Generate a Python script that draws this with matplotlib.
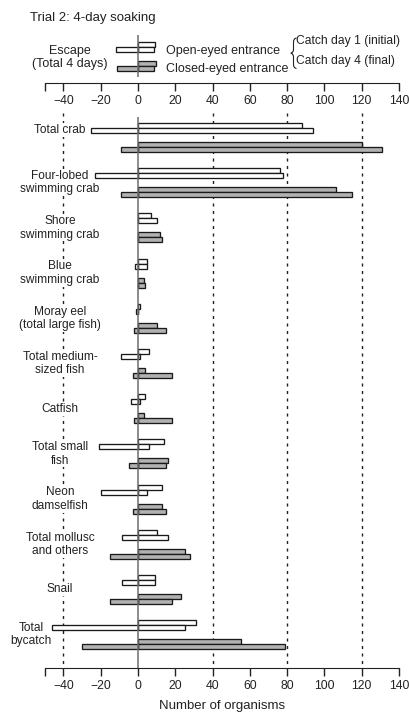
import matplotlib
matplotlib.use("Agg")
import matplotlib.pyplot as plt
import numpy as np
from matplotlib.path import Path
from matplotlib.patches import PathPatch
import matplotlib.transforms as mtransforms

plt.rcParams['font.family'] = ['Liberation Sans', 'DejaVu Sans']

# ---------------- data ----------------
categories = ["Total crab", "Four-lobed\nswimming crab", "Shore\nswimming crab",
              "Blue\nswimming crab", "Moray eel\n(total large fish)",
              "Total medium-\nsized fish", "Catfish", "Total small\nfish",
              "Neon\ndamselfish", "Total mollusc\nand others", "Snail",
              "Total\nbycatch"]

# open-eyed entrance
open_day1 = [88, 76, 7, 5, 1, 6, 4, 14, 13, 10, 9, 31]
open_day4 = [94, 78, 10, 5, 0, 1, 1, 6, 5, 16, 9, 25]
open_escape = [25, 23, 0, 1.5, 1, 9, 3.5, 21, 20, 8.5, 8.5, 46]
# closed-eyed entrance
closed_day1 = [120, 106, 12, 3, 10, 4, 3, 16, 13, 25, 23, 55]
closed_day4 = [131, 115, 13, 4, 15, 18, 18, 15, 15, 28, 18, 79]
closed_escape = [9, 9, 0, 0, 2, 2.5, 2, 5, 2.5, 15, 15, 30]

# key example bars
key_catch_open = [9.3, 8.4]
key_escape_open = 11.6
key_catch_closed = [9.8, 8.8]
key_escape_closed = 11.3

xticks = [-50, -40, -20, 0, 20, 40, 60, 80, 100, 120, 140]
xticklabels = ["", "\u221240", "\u221220", "0", "20", "40", "60", "80", "100", "120", "140"]
grid_x = [-40, 40, 80, 120]

# ---------------- layout ----------------
W, H, DPI = 4.09, 7.13, 100
fig = plt.figure(figsize=(W, H), dpi=DPI)
XLIM = (-74.02, 145.36)

WHITE = "white"
GREY = "#b2b2b2"
EDGE = "#1a1a1a"
ZERO = "#6e6e6e"

top_px, bot_px = 83, 668
ax = fig.add_axes([0, 1 - bot_px / 713, 1, (bot_px - top_px) / 713])
ax.set_xlim(*XLIM)
n = len(categories)
ax.set_ylim(11.737, -1.206)

bh = 0.112
offs = [-0.265, -0.155, 0.155, 0.265]
y = np.arange(n)

kw = dict(height=bh, edgecolor=EDGE, linewidth=0.95, zorder=2)
ax.barh(y + offs[0], open_day1, color=WHITE, **kw)
ax.barh(y + offs[1], open_day4, color=WHITE, **kw)
ax.barh(y + offs[1], -np.array(open_escape), color=WHITE, **kw)
ax.barh(y + offs[2], closed_day1, color=GREY, **kw)
ax.barh(y + offs[3], closed_day4, color=GREY, **kw)
ax.barh(y + offs[3], -np.array(closed_escape), color=GREY, **kw)

# zero line and dotted reference lines
ax.vlines(0, -0.458, 11.737, color=ZERO, linewidth=1.1, zorder=3)
for gx in grid_x:
    ax.vlines(gx, -0.547, 11.737, color="#222222", linewidth=1.0,
              linestyles=(0, (2.2, 3.2)), zorder=1)

# category labels (white box hides the dotted line behind the text)
label_x = {11: -57.4}
label_dy = {0: -0.17}
for i, cat in enumerate(categories):
    ax.text(label_x.get(i, -41.8), i + label_dy.get(i, 0.0), cat,
            ha="center", va="center", fontsize=8.6, color="#222222",
            linespacing=1.15, zorder=1.5,
            bbox=dict(facecolor="white", edgecolor="none", pad=0.6))

for s in ["left", "right", "top"]:
    ax.spines[s].set_visible(False)
ax.spines["bottom"].set_bounds(-50, 140)
ax.spines["bottom"].set_color("#222222")
ax.set_xticks(xticks)
ax.set_xticklabels(xticklabels)
ax.set_yticks([])
ax.tick_params(axis="x", direction="out", length=6, width=1.0,
               color="#222222", labelsize=8.8, pad=2.5, labelcolor="#222222")

# key / top scale axes (y in pixels from the top of the figure)
lax = fig.add_axes([0, 1 - top_px / 713, 1, top_px / 713])
lax.set_xlim(*XLIM)
lax.set_ylim(top_px, 0)
lax.patch.set_alpha(0)
for s in ["left", "right", "top"]:
    lax.spines[s].set_visible(False)
lax.spines["bottom"].set_bounds(-50, 140)
lax.spines["bottom"].set_color("#222222")
lax.set_xticks(xticks)
lax.set_xticklabels(xticklabels)
lax.set_yticks([])
lax.tick_params(axis="x", direction="out", length=6, width=1.0,
                color="#222222", labelsize=8.8, pad=2.5, labelcolor="#222222")

kh = 5
lkw = dict(height=kh, edgecolor=EDGE, linewidth=0.95, zorder=2)
lax.barh(44.5, key_catch_open[0], color=WHITE, **lkw)
lax.barh(49.5, key_catch_open[1], color=WHITE, **lkw)
lax.barh(49.5, -key_escape_open, color=WHITE, **lkw)
lax.barh(63.5, key_catch_closed[0], color=GREY, **lkw)
lax.barh(68.5, key_catch_closed[1], color=GREY, **lkw)
lax.barh(68.5, -key_escape_closed, color=GREY, **lkw)
lax.vlines(0, 35, 77, color=ZERO, linewidth=1.1, zorder=3)

# pixel transform (x, y measured from the top-left corner)
px = mtransforms.Affine2D().scale(1 / DPI, -1 / DPI).translate(0, H) + fig.dpi_scale_trans

tc = "#222222"
fig.text(30, 17.5, "Trial 2: 4-day soaking", transform=px, fontsize=9.5,
         ha="left", va="center", color=tc)
fig.text(70, 51, "Escape", transform=px, fontsize=9, ha="center", va="center", color=tc)
fig.text(70, 64, "(Total 4 days)", transform=px, fontsize=9, ha="center", va="center", color=tc)
fig.text(166, 51, "Open-eyed entrance", transform=px, fontsize=9, ha="left", va="center", color=tc)
fig.text(166, 69, "Closed-eyed entrance", transform=px, fontsize=9, ha="left", va="center", color=tc)
fig.text(296, 41, "Catch day 1 (initial)", transform=px, fontsize=8.7, ha="left", va="center", color=tc)
fig.text(296, 61, "Catch day 4 (final)", transform=px, fontsize=8.7, ha="left", va="center", color=tc)

# curly brace joining the two catch-day entries
verts = [(296.5, 38), (293.5, 38.5), (293.5, 42), (293.5, 49.5),
         (293.5, 52.8), (290.8, 53.2), (293.5, 53.6), (293.5, 57),
         (293.5, 64.5), (293.5, 68), (296.5, 68.5)]
codes = [Path.MOVETO, Path.CURVE3, Path.CURVE3, Path.LINETO,
         Path.CURVE3, Path.CURVE3, Path.CURVE3, Path.CURVE3,
         Path.LINETO, Path.CURVE3, Path.CURVE3]
fig.add_artist(PathPatch(Path(verts, codes), transform=px, facecolor="none",
                         edgecolor=tc, linewidth=0.8))

fig.text(222, 706, "Number of organisms", transform=px, fontsize=9.5,
         ha="center", va="center", color=tc)

fig.savefig("out.png", dpi=DPI)
